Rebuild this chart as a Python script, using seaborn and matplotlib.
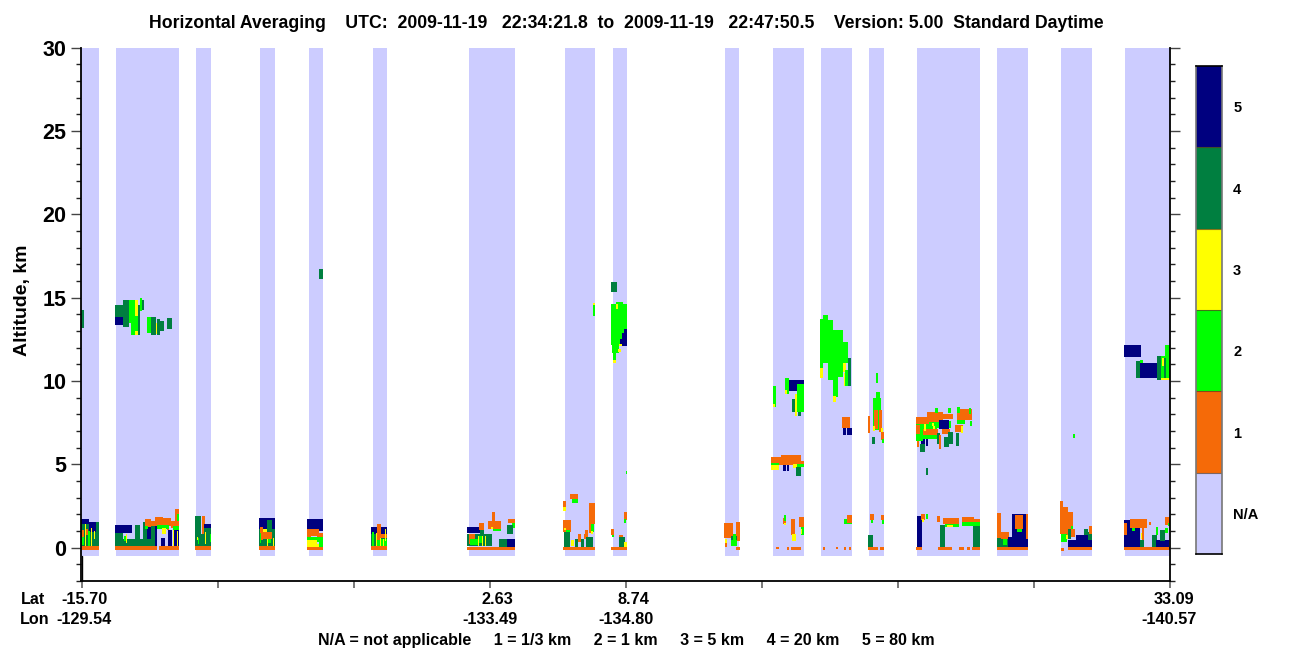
import numpy as np, pandas as pd
import matplotlib
matplotlib.use("Agg")
import matplotlib.pyplot as plt
from matplotlib.colors import ListedColormap
import seaborn as sns

# class palette: N/A, 1, 2, 3, 4, 5
class_labels = ["N/A", "1", "2", "3", "4", "5"]
class_colors = ["#CCCCFF", "#F56A08", "#00FF00", "#FFFF00", "#007F40", "#00007F"]

# daytime profile segments (profile index start, end)
swath_start = [0, 35, 115, 179, 228, 292, 388, 484, 532, 644, 692, 740, 788, 836, 916, 980, 1044]
swath_end = [18, 98, 130, 194, 242, 306, 434, 514, 546, 658, 723, 771, 803, 899, 947, 1011, 1089]

# (class, profile start, profile end, altitude low km, altitude high km)
surface = [(1,0,18,-.14,.1),(1,34,76,-.14,.1),(1,78,98,-.14,.1),(1,114,130,-.14,.1),(1,178,194,-.14,.1),
    (1,226,242,-.14,.1),(1,290,306,-.14,.1),(1,386,434,-.14,.06),(1,482,514,-.14,.06),(1,530,546,-.14,.06),
    (1,655,659,-.14,.06),(1,695,698,-.1,.05),(1,706,708,-.14,.05),(1,710,720,-.14,.05),(1,742,744,-.14,.03),
    (1,755,757,-.1,.05),(1,763,765,-.14,.03),(1,768,770,-.14,.03),(1,787,797,-.14,.05),(1,799,803,-.14,.05),
    (1,835,841,-.14,.05),(1,857,871,-.14,.05),(1,878,883,-.14,.05),(1,886,889,-.14,.03),(1,891,899,-.14,.05),
    (1,916,947,-.14,.05),(1,980,983,-.2,0),(1,987,1011,-.14,.05),(1,1043,1089,-.14,.05)]

low_west = [(5,0,8,1.0,1.72),(4,0,8,.1,1.45),(5,8,15,.95,1.56),(4,8,15,.1,.95),(4,15,18,.1,1.56),
    (1,1,3,.65,1.05),(1,5,7,.75,1.15),(2,1,3,.15,.65),(2,7,9,.1,1),(3,4,5,.1,1.4),(3,10,11,.1,1.2),(3,13,14,.55,1),
    (5,34,51,.86,1.36),(4,34,42,.1,.86),(4,42,54,.1,.55),(4,54,59,.1,1.36),(4,59,62,.1,.5),(4,62,66,.1,1.55),
    (5,66,70,.5,1.5),(4,66,70,.1,.5),(4,70,74,.1,1.3),(5,74,76,.1,1.3),(5,80,84,.1,.6),(5,87,91,.1,1.05),
    (5,92,98,.1,1.1),(3,92,93,.1,1.05),(3,96,97,.1,1),(3,45,46,.3,.8),(2,43,45,.4,.7),
    (1,64,70,1.25,1.7),(1,70,76,1.3,1.6),(1,74,82,1.35,1.85),(1,82,90,1.3,1.8),(1,90,96,1.2,1.6),(1,94,98,1.3,2.3),
    (1,78,80,1.1,1.4),(1,86,88,1.05,1.35),(2,64,67,1.1,1.3),(2,76,88,1.1,1.35),(3,81,85,.8,1.2),(2,92,98,1.05,1.3),(2,96,98,1.6,2),
    (4,114,120,.1,1.9),(4,119,123,.1,.85),(1,121,124,.85,1.9),(5,123,130,.85,1.42),(4,123,130,.1,1.2),
    (3,124,125,.25,.95),(2,129,130,.35,.85),(3,116,117,.45,.65),(2,117,118,.2,.6),
    (5,178,194,1.15,1.76),(4,178,194,.1,1.15),(4,186,191,.1,1.65),(1,179,182,.45,1.25),(1,182,191,.55,.95),
    (3,182,186,.95,1.15),(3,186,187,.1,.55),(3,192,193,.1,.6),(2,179,180,.3,.9),(2,187,190,.3,.5),
    (5,226,242,1.0,1.72),(1,226,230,.6,1.1),(1,230,238,.7,1.15),(1,236,242,.6,.9),(2,226,242,.36,.66),
    (3,226,236,.06,.45),(3,236,240,.06,.25),(2,238,242,.06,.36),
    (5,290,306,.76,1.24),(4,290,306,.1,.85),(2,291,293,.1,.95),(2,296,299,.1,.7),(2,300,306,.1,.55),
    (1,296,300,.45,1.4),(1,300,306,.6,.85),(3,295,296,.1,.9),(3,299,300,.1,.6),(3,304,305,.4,1.1),(3,302,303,.1,.5)]

low_mid = [(5,386,399,.86,1.24),(4,386,411,.1,.8),(1,388,394,.25,.85),(2,389,397,.15,.55),(2,397,401,.3,.7),
    (3,397,398,.1,.7),(3,401,402,.1,.7),(3,404,405,.1,.7),(1,398,403,1.05,1.5),(4,399,403,.8,1.05),
    (1,407,420,1.1,1.6),(1,411,414,1.6,2.15),(2,412,420,1.0,1.15),(3,410,412,1.1,1.25),
    (1,427,434,1.5,1.75),(2,431,434,1.2,1.5),(4,426,432,.85,1.35),(4,418,426,.06,.55),(5,426,434,.06,.5),
    (1,482,485,2.45,2.8),(3,482,485,2.2,2.45),(1,489,497,2.9,3.2),(2,491,497,2.7,2.9),
    (1,482,490,.96,1.65),(3,483,485,1.05,1.2),(2,485,489,.8,1.05),(4,483,489,.06,.96),
    (4,494,497,.06,.5),(3,490,493,.1,.45),(1,497,500,.35,.85),(4,500,503,.06,.5),(4,505,512,.06,.65),
    (1,504,507,.65,1.05),(1,508,514,1.45,2.7),(1,508,512,.9,1.45),(2,510,513,.95,1.4),(3,510,512,.8,1),(1,503,505,.5,.8),
    (1,530,533,.76,1.1),(2,531,533,.65,.76),(1,538,542,.5,.75),(4,538,544,.06,.65),(3,543,546,.06,.35),
    (1,543,546,1.65,2.15),(2,543,545,1.5,1.7),(2,545,546,4.4,4.6),
    (1,643,652,.6,1.5),(1,650,652,.5,.9),(1,655,659,.4,1.55),(4,650,656,.1,.7),(2,650,656,.1,.45),
    (3,644,646,.1,.55),(1,644,646,.06,.3),(2,652,655,.4,.8)]

mid_east = [(1,690,700,4.95,5.45),(1,700,712,4.95,5.55),(1,712,720,4.95,5.55),(1,720,723,5.05,5.2),
    (2,690,698,4.95,5.1),(3,690,698,4.65,4.95),(3,712,716,4.8,5),(2,716,723,4.85,5.05),
    (5,702,705,4.6,4.95),(5,706,708,4.6,4.95),(4,715,720,4.3,4.85),
    (1,761,769,7.2,7.82),(5,762,765,6.75,7.2),(5,766,771,6.75,7.2),
    (2,795,797,9.9,10.47),(2,792,800,7.05,8.96),(2,795,799,8.87,9.32),(1,793,797,7.15,8.25),(1,798,801,6.95,8.25),
    (3,792,794,7,7.3),(1,787,789,6.9,7.9),(3,800,802,6.9,7.2),(1,800,803,6.45,6.95),(2,801,803,6.3,6.5),(4,791,794,6.2,6.65),
    (2,835,856,6.55,7.55),(2,848,870,7.2,7.6),(1,835,848,7.45,7.85),(1,835,839,6.85,7.35),(1,846,862,7.55,8.15),(1,862,872,7.7,8.05),
    (1,876,891,7.65,8.3),(2,854,857,8.1,8.4),(2,867,870,8.1,8.4),(2,876,879,8.1,8.45),(2,888,890,8.05,8.4),
    (2,889,891,7.3,7.6),(2,876,884,7.4,7.65),(1,842,857,6.75,7.15),(1,861,869,6.85,7.15),(1,874,882,6.95,7.35),
    (3,860,862,7.1,7.45),(3,880,882,6.9,7.3),(3,852,854,7.1,7.3),(3,843,845,7.0,7.45),(3,851,853,7.3,7.5),
    (5,858,868,7.15,7.65),(4,867,872,6.25,6.95),(4,863,868,6.05,6.65),(4,875,878,6.1,6.9),(4,856,859,6.2,6.9),
    (1,858,860,5.9,6.75),(5,845,847,6.1,6.5),(5,840,844,6.2,6.5),(4,839,844,5.75,6.25),(1,836,838,6.05,6.65),
    (4,845,847,4.35,4.8),(2,835,842,6.4,6.7)]

low_east = [(1,702,705,1.44,1.8),(2,703,705,1.6,1.95),(3,703,705,1.35,1.5),(1,710,714,.75,1.7),(3,711,715,.4,.85),
    (1,718,723,1.25,1.85),(2,720,723,.75,1.25),(3,720,721,.8,1.1),
    (1,766,771,1.4,1.95),(2,763,771,1.4,1.75),(1,766,771,1.5,1.95),
    (1,789,793,1.65,2),(2,790,792,1.5,1.65),(1,800,803,1.65,1.95),(2,801,803,1.45,1.65),(4,787,792,.05,.75),
    (5,836,841,.05,1.9),(1,840,844,1.65,2),(3,841,843,1.55,1.7),(2,845,847,1.7,2),
    (1,856,859,1.55,1.9),(1,862,878,1.4,1.8),(2,864,878,1.25,1.45),(3,866,872,1.25,1.35),(1,881,893,1.5,1.85),
    (2,881,899,1.3,1.55),(1,892,899,1.55,1.75),(4,859,864,.05,1.35),(4,892,899,.05,1.3),
    (4,916,927,.05,.9),(1,916,920,.6,2.1),(1,920,928,.55,.95),(2,922,926,.15,.55),
    (5,927,936,.05,.65),(5,931,947,.05,2),(1,934,942,1.15,1.95),(2,936,941,.95,1.15),(1,945,947,.55,2.05),
    (1,979,982,.85,2.8),(1,982,987,.65,2.45),(1,987,992,.65,2.15),(2,980,986,.35,.85),(3,985,987,.5,.75),(2,990,992,.9,1.3),
    (1,987,994,.65,1.15),(4,987,990,.55,1.1),(5,987,1011,.05,.45),(5,995,1007,.05,.75),
    (4,1003,1007,.75,1.1),(4,1007,1011,.45,.95),(1,1008,1011,.8,1.3),
    (5,1043,1059,.05,1.64),(1,1043,1046,.75,1.5),(1,1049,1066,1.2,1.74),(2,1051,1054,1.0,1.2),(1,1061,1063,.25,1.25),
    (3,1060,1061,.5,.9),(4,1059,1063,.05,.45),(4,1071,1076,.05,.75),(5,1075,1088,.05,.45),(4,1079,1084,.4,1.05),
    (2,1075,1077,.75,1.25),(2,1084,1087,.9,1.2),(1,1084,1089,1.35,1.85),(1,1068,1070,1.35,1.55),(2,1087,1089,1.3,1.5)]

high_west = [(4,0,3,13.2,14.27),(5,34,48,13.37,13.87),(4,34,42,13.87,14.57),(4,42,48,13.27,14.87),
    (2,48,57,13.47,14.87),(3,54,57,13.9,14.87),(2,50,57,12.77,13.47),(3,54,57,12.75,13),
    (4,57,59,12.77,14.57),(2,59,61,14.2,14.97),(4,61,63,14.3,14.87),(2,66,71,12.9,13.87),(4,70,75,12.75,13.83),
    (3,75,76,12.8,13.5),(4,76,79,12.77,13.73),(4,79,83,13.03,13.6),(4,86,91,13.15,13.77),(4,238,242,16.15,16.75),
    (2,512,514,13.9,14.7),(3,512,514,14.55,14.7),(4,530,536,15.38,15.96),(2,530,546,12.17,14.65),
    (2,535,542,14.65,14.75),(3,535,537,14.35,14.65),(2,531,538,11.67,12.17),(2,532,535,11.1,11.67),(3,532,535,11.1,11.25),
    (3,537,540,11.75,11.95),(5,541,546,12.1,12.9),(5,539,541,12.1,12.5),(5,543,546,12.9,13.1),(3,538,541,12.1,12.25)]

high_east = [(2,692,695,8.45,9.7),(3,692,694,8.45,8.6),(5,707,723,9.4,10.06),(2,704,708,9.2,10.16),(3,704,706,9.2,9.45),
    (4,711,714,8.15,8.9),(2,716,723,8.15,9.85),(3,714,716,7.9,9.25),(4,717,720,7.9,8.15),
    (2,739,742,10.76,13.73),(3,739,742,10.2,10.76),(2,742,747,11.06,13.97),(2,747,752,10.06,13.67),
    (2,752,757,9.06,13.07),(3,752,755,8.75,9.1),(2,757,762,10.26,13.07),(2,762,767,11.06,12.37),
    (3,762,765,10.56,11.06),(4,767,770,9.7,11.36),(2,764,767,9.7,10.66),(3,763,764,9.7,10.5),
    (5,1043,1060,11.42,12.14),(4,1055,1059,10.2,11.18),(2,1059,1062,10.34,11.24),(5,1059,1076,10.16,11.08),
    (4,1076,1080,10.08,11.48),(2,1080,1089,10.08,11.5),(2,1084,1089,11.5,12.14),(4,1083,1085,10.1,11.4),
    (3,1081,1083,10.9,11.4),(3,1080,1089,10.05,10.16),(2,992,994,6.58,6.8)]

# axis content
x_major_ticks = [1, 137, 273, 409, 545, 681, 817, 953, 1089]
alt_major = [0, 5, 10, 15, 20, 25, 30]
title = "Horizontal Averaging    UTC:  2009-11-19   22:34:21.8  to  2009-11-19   22:47:50.5    Version: 5.00  Standard Daytime"
footer = "N/A = not applicable     1 = 1/3 km     2 = 1 km     3 = 5 km     4 = 20 km     5 = 80 km"
lat_labels = ["-15.70", "2.63", "8.74", "33.09"]
lon_labels = ["-129.54", "-133.49", "-134.80", "-140.57"]
lat_x = [84, 497, 633, 1174]
lon_x = [84, 490, 626, 1169]

W, H = 1300, 667
sns.set_theme(style="white")
plt.rcParams["font.family"] = ["Liberation Sans", "DejaVu Sans"]
fig = plt.figure(figsize=(W/100, H/100), dpi=100, facecolor="white")
ax_left, ax_right, ax_top, ax_bot = 81.0, 1170.0, 47.7, 581.0
ax = fig.add_axes([ax_left/W, 1-ax_bot/H, (ax_right-ax_left)/W, (ax_bot-ax_top)/H])

alt_min, alt_max, n_rows, n_cols = -2.0, 30.0, 533, 1089
dz = (alt_max-alt_min)/n_rows
row = lambda a: int(round((a-alt_min)/dz))
grid = np.full((n_rows, n_cols), np.nan)
for s, e in zip(swath_start, swath_end):
    grid[row(-0.5):, s:e] = 0
for group in (surface, low_west, low_mid, mid_east, low_east, high_west, high_east):
    for cls, p0, p1, a0, a1 in group:
        grid[row(a0):row(a1), p0:p1] = cls

cmap = ListedColormap(class_colors)
sns.heatmap(pd.DataFrame(grid), ax=ax, cmap=cmap, vmin=-.5, vmax=5.5, cbar=False,
            xticklabels=False, yticklabels=False)
ax.set_xlim(0, n_cols)
ax.set_ylim(0, n_rows)
for side in ("left", "bottom", "right"):
    ax.spines[side].set_visible(True)
    ax.spines[side].set_color("black")
    ax.spines[side].set_linewidth(1.3)
ax.spines["top"].set_visible(False)

to_row = lambda a: (a-alt_min)/dz
ax.set_yticks([to_row(a) for a in alt_major])
ax.set_yticklabels([str(a) for a in alt_major], fontsize=15.5, fontweight="bold", color="black")
ax.set_yticks([to_row(a) for a in range(-2, 31) if a % 5], minor=True)
ax.set_xticks(x_major_ticks)
ax.set_xticklabels([])
ax.tick_params(axis="y", which="major", left=True, right=True, length=7.5, width=1, color="#444444", pad=3, direction="out")
ax.tick_params(axis="y", which="minor", left=True, right=True, length=3.8, width=1, color="#222222", direction="out")
ax.tick_params(axis="x", which="major", bottom=True, length=5, width=1.1, color="#555555", direction="out")
ax.plot([1.3, 1.3], [0, to_row(-0.5)], color="black", lw=1, clip_on=False)
ax.set_ylabel("")

def ftext(x, y, s, size=11.5, ha="center", rot=0):
    fig.text(x/W, 1-y/H, s, fontsize=size, fontweight="bold", ha=ha, va="center", rotation=rot, color="black")

ftext(626, 23, title, 12.7)
ftext(23, 300, "Altitude, km", 14.0, rot=90)
ftext(33, 600, "Lat", 11.6)
ftext(35, 619, "Lon", 11.6)
for x, s in zip(lat_x, lat_labels):
    ftext(x, 600, s, 11.7)
for x, s in zip(lon_x, lon_labels):
    ftext(x, 619, s, 11.7)
ftext(626, 640, footer, 11.5)

# colour key
cax = fig.add_axes([1196/W, 1-554/H, 26/W, (554-66)/H])
key = pd.DataFrame({"class": list(range(len(class_labels)))}, index=class_labels)
sns.heatmap(key, ax=cax, cmap=cmap, vmin=-.5, vmax=5.5, cbar=False, xticklabels=False,
            yticklabels=True, linewidths=0)
cax.set_ylim(0, 6)
for i in range(1, 6):
    cax.axhline(i, color="#5a3a20", lw=0.8, alpha=.7)
for side in cax.spines:
    cax.spines[side].set_visible(True)
    cax.spines[side].set_linewidth(1.2)
    cax.spines[side].set_color("black" if side in ("top", "bottom") else "#777777")
cax.yaxis.tick_right()
cax.set_ylabel("")
cax.tick_params(axis="y", length=0, pad=8)
for t in cax.get_yticklabels():
    t.set_rotation(0); t.set_fontsize(10.5); t.set_fontweight("bold"); t.set_color("black")

fig.savefig("out.png", dpi=100, facecolor="white")
